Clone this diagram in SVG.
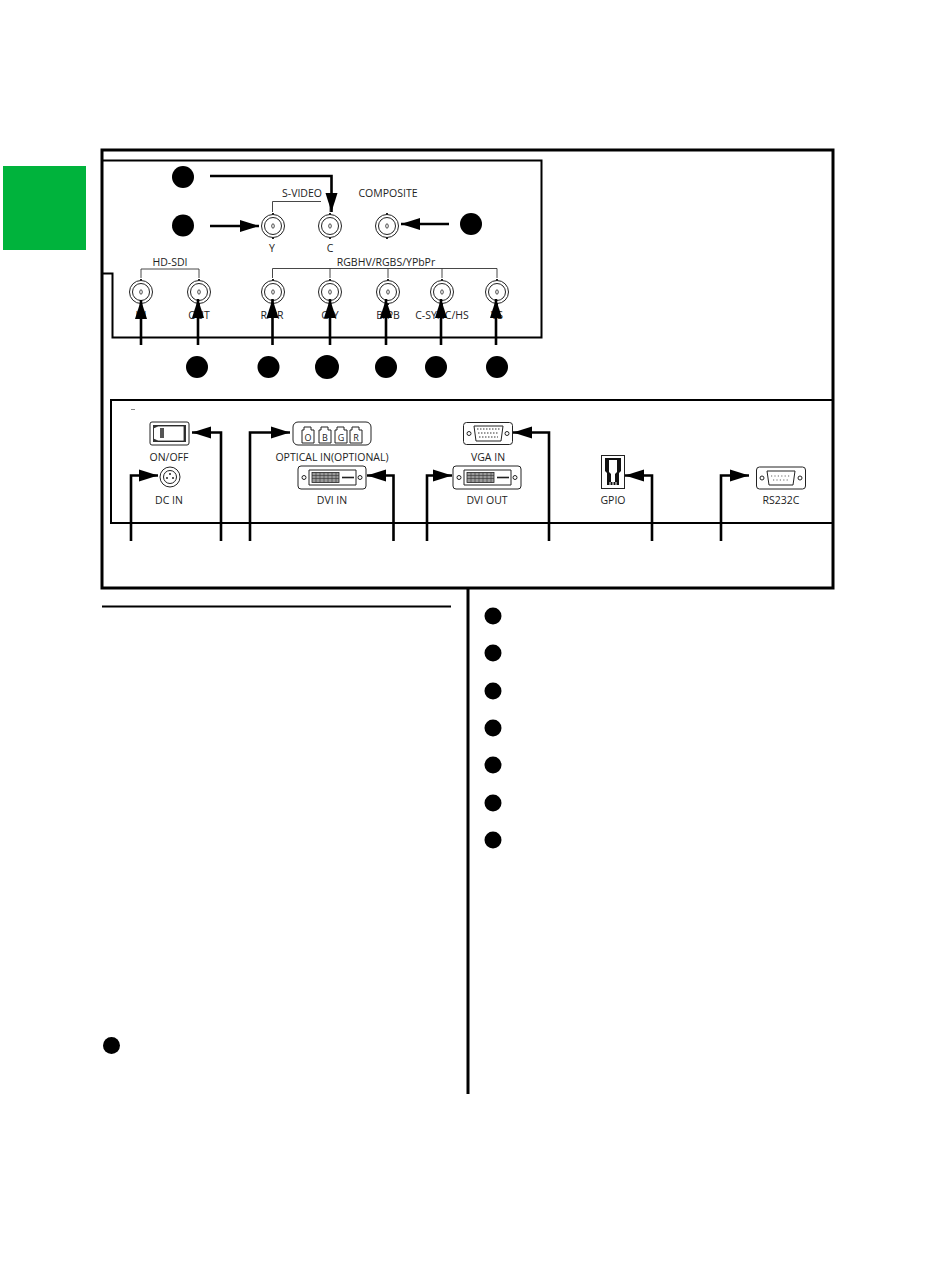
<svg xmlns="http://www.w3.org/2000/svg" width="950" height="1276" viewBox="0 0 950 1276">
<style>
.t{font-family:"Open Sans","Noto Sans","Liberation Sans",sans-serif;font-size:10.5px;fill:#222;text-anchor:middle}
.frame{fill:none;stroke:#000;stroke-width:3}
.box{fill:none;stroke:#000;stroke-width:2}
.thin{fill:none;stroke:#333;stroke-width:.9}
.ic{fill:#fff;stroke:#222;stroke-width:1}
.conn{fill:none;stroke:#000;stroke-width:2.6}
.dot{fill:#000}
</style>
<defs>
<marker id="ah" markerUnits="userSpaceOnUse" markerWidth="20" markerHeight="14" refX="19" refY="7" orient="auto">
<polygon points="0,1 19,7 0,13"/>
</marker>
<g id="bnc">
<circle r="11.5" fill="#fff" stroke="#222" stroke-width="1"/>
<circle r="8.5" fill="#fff" stroke="#222" stroke-width="1"/>
<ellipse rx="1.3" ry="2.2" fill="#fff" stroke="#222" stroke-width=".8"/>
<rect x="-1" y="-13" width="2" height="2" fill="#222"/>
<rect x="-1" y="11" width="2" height="2" fill="#222"/>
</g>
<g id="dvi">
<rect x="0" y="0" width="68" height="23" rx="3" class="ic" stroke-width="1.3"/>
<circle cx="6" cy="11.5" r="2" fill="#fff" stroke="#222"/>
<circle cx="62" cy="11.5" r="2" fill="#fff" stroke="#222"/>
<path d="M11 4H58V19H11Z" fill="#fff" stroke="#222"/>
<rect x="14" y="6.5" width="27" height="10" fill="#999" stroke="#222" stroke-width=".8"/>
<path d="M14 9.5H41M14 12.5H41M18 6.5V16.5M22 6.5V16.5M26 6.5V16.5M30 6.5V16.5M34 6.5V16.5M38 6.5V16.5" stroke="#333" stroke-width=".6"/>
<path d="M44 11.5H56" stroke="#222" stroke-width="1.6"/>
</g>
</defs>

<rect x="3" y="166" width="83" height="84" fill="#00b33c"/>
<rect id="outer-frame" x="102" y="150" width="731" height="438" class="frame"/>
<path id="upper-panel" class="box" d="M103 160.500H541.500V337.500H112.500V273.500H103"/>
<rect id="lower-panel" x="111" y="400" width="722" height="123" class="box"/>
<path d="M131 409.500H135" stroke="#666" stroke-width=".8"/>
<path d="M468 588V1094" stroke="#000" stroke-width="3"/>
<path d="M102 606.500H451" stroke="#000" stroke-width="2"/>

<g id="bracket-svideo" class="thin"><path class="thin" d="M272.500 212V201.500H321M330 201.500V212"/></g>
<g id="bracket-hdsdi"><path class="thin" d="M141 278V269H199V278"/></g>
<g id="bracket-rgb"><path class="thin" d="M272.500 278V268.500H497V278M330 268.500V278M388 268.500V278M442 268.500V278"/></g>

<g id="label-groups">
<text class="t" x="302" y="197">S-VIDEO</text>
<text class="t" x="388" y="197">COMPOSITE</text>
<text class="t" x="170" y="266">HD-SDI</text>
<text class="t" x="386" y="266">RGBHV/RGBS/YPbPr</text>
</g>

<g id="bnc-y"><use href="#bnc" x="273" y="226"/><text class="t" x="272" y="252">Y</text></g>
<g id="bnc-c"><use href="#bnc" x="330" y="226"/><text class="t" x="330" y="252">C</text></g>
<g id="bnc-composite"><use href="#bnc" x="387" y="226"/></g>
<g id="bnc-in"><use href="#bnc" x="141" y="292"/><text class="t" x="141" y="319">IN</text></g>
<g id="bnc-out"><use href="#bnc" x="199" y="292"/><text class="t" x="199" y="319">OUT</text></g>
<g id="bnc-r"><use href="#bnc" x="273" y="292"/><text class="t" x="272" y="319">R/PR</text></g>
<g id="bnc-g"><use href="#bnc" x="330" y="292"/><text class="t" x="330" y="319">G/Y</text></g>
<g id="bnc-b"><use href="#bnc" x="388" y="292"/><text class="t" x="388" y="319">B/PB</text></g>
<g id="bnc-sync"><use href="#bnc" x="442" y="292"/><text class="t" x="442" y="319">C-SYNC/HS</text></g>
<g id="bnc-vs"><use href="#bnc" x="497" y="292"/><text class="t" x="497" y="319">VS</text></g>

<g id="node-onoff">
<rect x="150" y="422" width="39" height="23" rx="2" class="ic" stroke-width="1.3"/>
<path d="M153 425H186V442H153Z" fill="#333"/>
<path d="M158 426H184V441H158L153.500 439V428Z" fill="#fff" stroke="#222" stroke-width=".8"/>
<rect x="160" y="428" width="4" height="10" fill="#555"/>
<text class="t" x="169" y="461">ON/OFF</text>
</g>
<g id="node-dcin">
<circle cx="170" cy="477" r="10" class="ic" stroke-width="1.5"/>
<circle cx="170" cy="477" r="6.500" class="ic"/>
<circle cx="170" cy="474" r="1" fill="#222"/><circle cx="167" cy="478" r="1" fill="#222"/><circle cx="173" cy="478" r="1" fill="#222"/>
<text class="t" x="169" y="504">DC IN</text>
</g>
<g id="node-optical">
<rect x="293" y="422" width="78" height="23" rx="5" class="ic"/>
<path d="M302 443V430H304V427H311V430H314V443Z M319 443V430H321V427H328V430H331V443Z M335 443V430H337V427H344V430H347V443Z M350 443V430H352V427H359V430H362V443Z" fill="#fff" stroke="#222" stroke-width="1"/>
<g style="font-size:9px"><text class="t" x="308" y="441" style="font-size:9px">O</text><text class="t" x="325" y="441" style="font-size:9px">B</text><text class="t" x="341" y="441" style="font-size:9px">G</text><text class="t" x="356" y="441" style="font-size:9px">R</text></g>
<text class="t" x="332" y="461">OPTICAL IN(OPTIONAL)</text>
</g>
<g id="node-dviin"><use href="#dvi" x="298" y="466"/><text class="t" x="332" y="504">DVI IN</text></g>
<g id="node-dviout"><use href="#dvi" x="453" y="466"/><text class="t" x="487" y="504">DVI OUT</text></g>
<g id="node-vga">
<rect x="463.500" y="422.500" width="49" height="22" rx="3" class="ic" stroke-width="1.3"/>
<circle cx="469" cy="433.500" r="2" fill="#fff" stroke="#222"/><circle cx="507" cy="433.500" r="2" fill="#fff" stroke="#222"/>
<path d="M474 426H503L501 441H476Z" fill="#fff" stroke="#222"/>
<path d="M477 429H500M478 433H499M479 437H498" stroke="#777" stroke-width="1.500" stroke-dasharray="1.500 1.500"/>
<text class="t" x="488" y="461">VGA IN</text>
</g>
<g id="node-gpio">
<rect x="601.500" y="455.500" width="23" height="33" class="ic" stroke-width="1.300"/>
<path d="M605 458H621V471L619 473V485H607V473L605 471Z" fill="#111"/>
<path d="M609 460H617V472L615 474V482H611V474L609 472Z" fill="#fff"/>
<path d="M610 482V485M613 482V485M616 482V485" stroke="#fff" stroke-width="1"/>
<text class="t" x="613" y="504">GPIO</text>
</g>
<g id="node-rs232">
<rect x="756.500" y="467" width="49" height="22" rx="3" class="ic" stroke-width="1.300"/>
<circle cx="762" cy="478" r="2" fill="#fff" stroke="#222"/><circle cx="800" cy="478" r="2" fill="#fff" stroke="#222"/>
<path d="M767 471H795L793 485H769Z" fill="#fff" stroke="#222"/>
<path d="M771 476H791M773 480H789" stroke="#666" stroke-width="1.200" stroke-dasharray="1.200 2.200"/>
<text class="t" x="781" y="504">RS232C</text>
</g>

<g id="connectors" marker-end="url(#ah)">
<path class="conn" marker-end="url(#ah)" d="M210 176H331.500V212"/>
<path class="conn" marker-end="url(#ah)" d="M210 226H259"/>
<path class="conn" marker-end="url(#ah)" d="M449 224H401"/>
<path class="conn" marker-end="url(#ah)" d="M141 345V300"/>
<path class="conn" marker-end="url(#ah)" d="M198 345V299"/>
<path class="conn" marker-end="url(#ah)" d="M272.500 345V299"/>
<path class="conn" marker-end="url(#ah)" d="M330 345V299"/>
<path class="conn" marker-end="url(#ah)" d="M386 345V299"/>
<path class="conn" marker-end="url(#ah)" d="M441 345V299"/>
<path class="conn" marker-end="url(#ah)" d="M496 345V299"/>
<path class="conn" marker-end="url(#ah)" d="M131 541V475.500H158"/>
<path class="conn" marker-end="url(#ah)" d="M221 541V432.500H192"/>
<path class="conn" marker-end="url(#ah)" d="M250 541V432.500H290"/>
<path class="conn" marker-end="url(#ah)" d="M393.500 541V475.500H367"/>
<path class="conn" marker-end="url(#ah)" d="M427 541V475.500H452"/>
<path class="conn" marker-end="url(#ah)" d="M549 541V432.500H513"/>
<path class="conn" marker-end="url(#ah)" d="M652 541V475.500H625"/>
<path class="conn" marker-end="url(#ah)" d="M721 541V475.500H749"/>
</g>

<g id="callouts">
<circle class="dot" cx="183" cy="177" r="11"/>
<circle class="dot" cx="183" cy="225.500" r="11"/>
<circle class="dot" cx="471" cy="224" r="11"/>
<circle class="dot" cx="197" cy="367" r="11"/>
<circle class="dot" cx="268.500" cy="367" r="11"/>
<circle class="dot" cx="327" cy="367" r="12"/>
<circle class="dot" cx="386" cy="367" r="11"/>
<circle class="dot" cx="436" cy="367" r="11"/>
<circle class="dot" cx="497" cy="367" r="11"/>
<circle class="dot" cx="493" cy="616" r="8.500"/>
<circle class="dot" cx="493" cy="653" r="8.500"/>
<circle class="dot" cx="493" cy="691" r="8.500"/>
<circle class="dot" cx="493" cy="728" r="8.500"/>
<circle class="dot" cx="493" cy="765" r="8.500"/>
<circle class="dot" cx="493" cy="803" r="8.500"/>
<circle class="dot" cx="493" cy="840" r="8.500"/>
<circle class="dot" cx="111.500" cy="1045.500" r="8.500"/>
</g>
</svg>
